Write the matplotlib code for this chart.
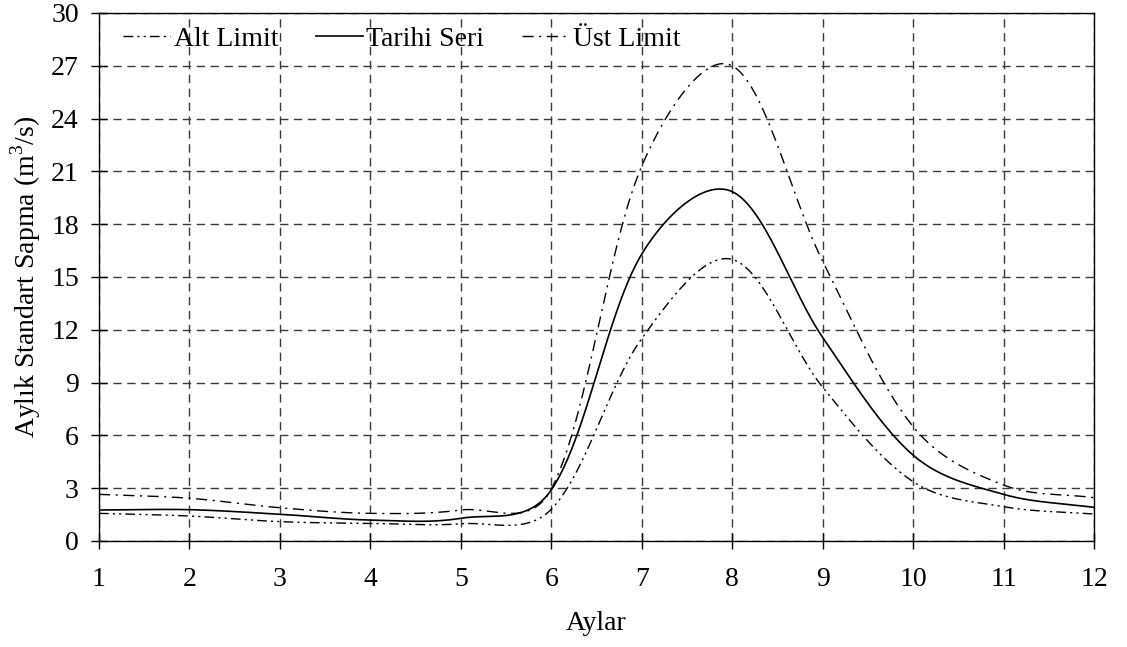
import numpy as np
import matplotlib
matplotlib.use("Agg")
import matplotlib.pyplot as plt

months = [1, 2, 3, 4, 5, 6, 7, 8, 9, 10, 11, 12]
alt_limit = [1.57, 1.42, 1.10, 1.00, 0.98, 1.80, 11.5, 16.0, 8.74, 3.37, 1.95, 1.53]
tarihi_seri = [1.76, 1.78, 1.52, 1.19, 1.29, 2.90, 16.3, 19.85, 11.57, 4.88, 2.65, 1.91]
ust_limit = [2.65, 2.43, 1.89, 1.57, 1.76, 2.95, 21.3, 27.0, 15.9, 6.5, 3.18, 2.46]
yticks = [0, 3, 6, 9, 12, 15, 18, 21, 24, 27, 30]

# pixel scale of the axes (for Excel-like smoothing)
SX = 995 / 11.0
SY = 528 / 30.0


def excel_smooth(x, y, n=50, k=0.4):
    """Excel-style smoothed line: cubic Bezier segments whose control points
    follow neighbouring-point tangents, softly weighted by segment lengths."""
    X = np.asarray(x, float) * SX
    Y = np.asarray(y, float) * SY
    P = np.column_stack([X, Y])
    m = len(P)
    d = np.hypot(np.diff(P[:, 0]), np.diff(P[:, 1]))
    cout = P.copy()
    cin = P.copy()
    for i in range(m):
        if i == 0:
            cout[i] = P[i] + (P[1] - P[0]) / 3
        elif i == m - 1:
            cin[i] = P[i] - (P[i] - P[i - 1]) / 3
        else:
            T = P[i + 1] - P[i - 1]
            a, b = d[i - 1], d[i]
            cout[i] = P[i] + T / 6 * (2 * b / (a + b)) ** k
            cin[i] = P[i] - T / 6 * (2 * a / (a + b)) ** k
    t = np.linspace(0, 1, n)[:, None]
    pts = []
    for i in range(m - 1):
        p0, p1, p2, p3 = P[i], cout[i], cin[i + 1], P[i + 1]
        b = (1 - t) ** 3 * p0 + 3 * (1 - t) ** 2 * t * p1 + 3 * (1 - t) * t ** 2 * p2 + t ** 3 * p3
        pts.append(b)
    pts = np.vstack(pts)
    return pts[:, 0] / SX, pts[:, 1] / SY


plt.rcParams['font.family'] = ['Liberation Serif', 'DejaVu Serif']
plt.rcParams['mathtext.fontset'] = 'custom'
plt.rcParams['mathtext.rm'] = 'Liberation Serif'

fig = plt.figure(figsize=(11.27, 6.47), dpi=100)
ax = fig.add_axes([99 / 1127, 1 - 541 / 647, (1094 - 99) / 1127, (541 - 13) / 647])

fs = 20
x1, y1 = excel_smooth(months, alt_limit)
x2, y2 = excel_smooth(months, tarihi_seri)
x3, y3 = excel_smooth(months, ust_limit)

ax.plot(x1, y1, color='black', lw=1.0, linestyle=(0, (7, 3, 1.5, 3, 1.5, 3)), label='Alt Limit', zorder=3)
ax.plot(x2, y2, color='black', lw=1.2, linestyle='-', label='Tarihi Seri', zorder=3)
ax.plot(x3, y3, color='black', lw=1.0, linestyle=(0, (8, 4, 1.5, 4)), label='Üst Limit', zorder=3)

ax.set_xlim(1, 12)
ax.set_ylim(0, 30)
ax.set_xticks(months)
ax.set_yticks(yticks)
ax.grid(True, color='#3a3a3a', linestyle=(0, (6, 4)), linewidth=1.0, zorder=1)
ax.set_axisbelow(True)
for s in ax.spines.values():
    s.set_color('black')
    s.set_linewidth(1.0)

ax.tick_params(axis='x', direction='inout', length=11, width=1, pad=13, labelsize=fs)
ax.tick_params(axis='y', direction='inout', length=11, width=1, pad=9, labelsize=fs)

ax.set_xlabel('Aylar', fontsize=fs, labelpad=14)
ax.set_ylabel('Aylık Standart Sapma (m$^3$/s)', fontsize=fs, labelpad=6)

leg = ax.legend(loc='upper left', bbox_to_anchor=(0.016, 0.99), ncol=3, frameon=False,
                fontsize=fs, handlelength=1.7, handletextpad=0.12, columnspacing=1.35,
                borderaxespad=0.15, borderpad=0.15)

fig.savefig('out.png', dpi=100)
